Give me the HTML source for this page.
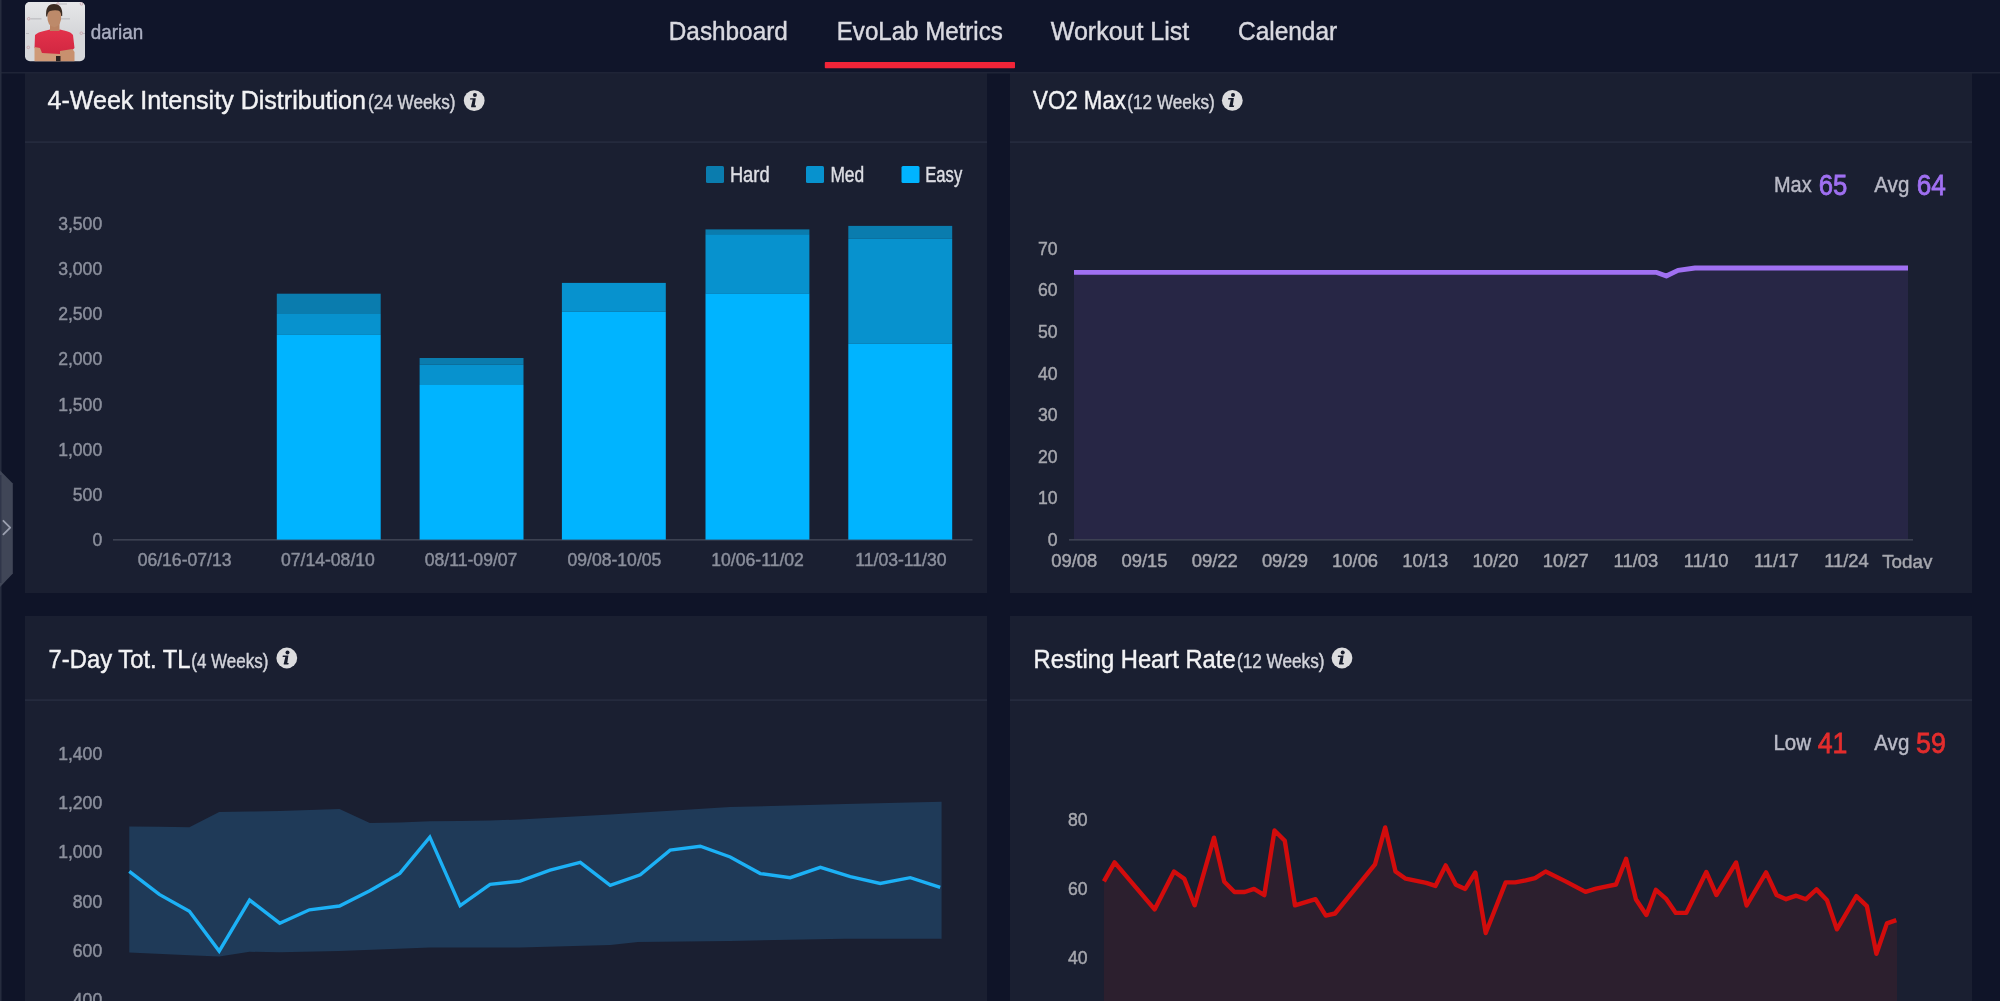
<!DOCTYPE html>
<html><head><meta charset="utf-8"><title>EvoLab Metrics</title>
<style>
html,body{margin:0;padding:0;background:#0f1428;overflow:hidden;}
svg{display:block;font-family:"Liberation Sans", sans-serif;will-change:transform;}
</style></head>
<body>
<svg width="2000" height="1001" viewBox="0 0 2000 1001">
<rect x="0" y="0" width="2000" height="1001" fill="#0f1428"/>
<rect x="25" y="58" width="962" height="535" fill="#1a1f31"/>
<rect x="1010" y="58" width="962" height="535" fill="#1a1f31"/>
<rect x="25" y="616" width="962" height="400" fill="#1a1f31"/>
<rect x="1010" y="616" width="962" height="400" fill="#1a1f31"/>
<rect x="25" y="141.5" width="962" height="1.2" fill="#2a3044"/>
<rect x="1010" y="141.5" width="962" height="1.2" fill="#2a3044"/>
<rect x="25" y="699.5" width="962" height="1.2" fill="#2a3044"/>
<rect x="1010" y="699.5" width="962" height="1.2" fill="#2a3044"/>
<rect x="113" y="539.2" width="859.5" height="1.3" fill="#454a5a"/>
<rect x="276.8" y="293.7" width="103.9" height="20.30000000000001" fill="#0a7cae"/>
<rect x="276.8" y="314.0" width="103.9" height="20.899999999999977" fill="#0792ce"/>
<rect x="276.8" y="334.9" width="103.9" height="204.70000000000005" fill="#00b4ff"/>
<rect x="419.6" y="358.0" width="103.9" height="6.699999999999989" fill="#0a7cae"/>
<rect x="419.6" y="364.7" width="103.9" height="20.30000000000001" fill="#0792ce"/>
<rect x="419.6" y="385.0" width="103.9" height="154.60000000000002" fill="#00b4ff"/>
<rect x="561.9" y="282.9" width="103.9" height="0.0" fill="#0a7cae"/>
<rect x="561.9" y="282.9" width="103.9" height="28.700000000000045" fill="#0792ce"/>
<rect x="561.9" y="311.6" width="103.9" height="228.0" fill="#00b4ff"/>
<rect x="705.5" y="229.4" width="103.9" height="4.799999999999983" fill="#0a7cae"/>
<rect x="705.5" y="234.2" width="103.9" height="59.19999999999999" fill="#0792ce"/>
<rect x="705.5" y="293.4" width="103.9" height="246.20000000000005" fill="#00b4ff"/>
<rect x="848.3" y="225.9" width="103.9" height="12.900000000000006" fill="#0a7cae"/>
<rect x="848.3" y="238.8" width="103.9" height="105.0" fill="#0792ce"/>
<rect x="848.3" y="343.8" width="103.9" height="195.8" fill="#00b4ff"/>
<text x="102.2" y="545.9" font-size="17.6" fill="#8b8f9c" text-anchor="end" stroke="#8b8f9c" stroke-width="0.45">0</text>
<text x="102.2" y="500.8" font-size="17.6" fill="#8b8f9c" text-anchor="end" stroke="#8b8f9c" stroke-width="0.45">500</text>
<text x="102.2" y="455.6" font-size="17.6" fill="#8b8f9c" text-anchor="end" stroke="#8b8f9c" stroke-width="0.45">1,000</text>
<text x="102.2" y="410.5" font-size="17.6" fill="#8b8f9c" text-anchor="end" stroke="#8b8f9c" stroke-width="0.45">1,500</text>
<text x="102.2" y="365.3" font-size="17.6" fill="#8b8f9c" text-anchor="end" stroke="#8b8f9c" stroke-width="0.45">2,000</text>
<text x="102.2" y="320.2" font-size="17.6" fill="#8b8f9c" text-anchor="end" stroke="#8b8f9c" stroke-width="0.45">2,500</text>
<text x="102.2" y="275.1" font-size="17.6" fill="#8b8f9c" text-anchor="end" stroke="#8b8f9c" stroke-width="0.45">3,000</text>
<text x="102.2" y="229.9" font-size="17.6" fill="#8b8f9c" text-anchor="end" stroke="#8b8f9c" stroke-width="0.45">3,500</text>
<text x="184.6" y="566" font-size="17.6" fill="#8b8f9c" text-anchor="middle" stroke="#8b8f9c" stroke-width="0.45">06/16-07/13</text>
<text x="327.9" y="566" font-size="17.6" fill="#8b8f9c" text-anchor="middle" stroke="#8b8f9c" stroke-width="0.45">07/14-08/10</text>
<text x="471.1" y="566" font-size="17.6" fill="#8b8f9c" text-anchor="middle" stroke="#8b8f9c" stroke-width="0.45">08/11-09/07</text>
<text x="614.4" y="566" font-size="17.6" fill="#8b8f9c" text-anchor="middle" stroke="#8b8f9c" stroke-width="0.45">09/08-10/05</text>
<text x="757.6" y="566" font-size="17.6" fill="#8b8f9c" text-anchor="middle" stroke="#8b8f9c" stroke-width="0.45">10/06-11/02</text>
<text x="900.9" y="566" font-size="17.6" fill="#8b8f9c" text-anchor="middle" stroke="#8b8f9c" stroke-width="0.45">11/03-11/30</text>
<rect x="706" y="166" width="18" height="17" rx="1.5" fill="#0a7cae"/>
<text x="729.9" y="182.2" font-size="21.2" fill="#dcdde3" text-anchor="start" textLength="39.7" lengthAdjust="spacingAndGlyphs" stroke="#dcdde3" stroke-width="0.45">Hard</text>
<rect x="806" y="166" width="18" height="17" rx="1.5" fill="#0792ce"/>
<text x="830.4" y="182.2" font-size="21.2" fill="#dcdde3" text-anchor="start" textLength="33.8" lengthAdjust="spacingAndGlyphs" stroke="#dcdde3" stroke-width="0.45">Med</text>
<rect x="901.5" y="166" width="18" height="17" rx="1.5" fill="#00b4ff"/>
<text x="925.3" y="182.2" font-size="21.2" fill="#dcdde3" text-anchor="start" textLength="36.9" lengthAdjust="spacingAndGlyphs" stroke="#dcdde3" stroke-width="0.45">Easy</text>
<path d="M1074,272.3 L1656,272.3 L1666.3,276 L1678,270.3 L1695,268 L1908,268 L1908,539.6 L1074,539.6 Z" fill="#272645"/>
<rect x="1069" y="539.2" width="844" height="1.3" fill="#454a5a"/>
<path d="M1074,272.3 L1656,272.3 L1666.3,276 L1678,270.3 L1695,268 L1908,268" fill="none" stroke="#a070f2" stroke-width="4.8" stroke-linejoin="round"/>
<text x="1057.6" y="545.9" font-size="17.6" fill="#a6a7ae" text-anchor="end" stroke="#a6a7ae" stroke-width="0.45">0</text>
<text x="1057.6" y="504.3" font-size="17.6" fill="#a6a7ae" text-anchor="end" stroke="#a6a7ae" stroke-width="0.45">10</text>
<text x="1057.6" y="462.7" font-size="17.6" fill="#a6a7ae" text-anchor="end" stroke="#a6a7ae" stroke-width="0.45">20</text>
<text x="1057.6" y="421.1" font-size="17.6" fill="#a6a7ae" text-anchor="end" stroke="#a6a7ae" stroke-width="0.45">30</text>
<text x="1057.6" y="379.5" font-size="17.6" fill="#a6a7ae" text-anchor="end" stroke="#a6a7ae" stroke-width="0.45">40</text>
<text x="1057.6" y="337.9" font-size="17.6" fill="#a6a7ae" text-anchor="end" stroke="#a6a7ae" stroke-width="0.45">50</text>
<text x="1057.6" y="296.3" font-size="17.6" fill="#a6a7ae" text-anchor="end" stroke="#a6a7ae" stroke-width="0.45">60</text>
<text x="1057.6" y="254.7" font-size="17.6" fill="#a6a7ae" text-anchor="end" stroke="#a6a7ae" stroke-width="0.45">70</text>
<defs><clipPath id="xc"><rect x="1030" y="545" width="940" height="24"/></clipPath></defs><g clip-path="url(#xc)">
<text x="1074.3" y="567.3" font-size="18.4" fill="#a6a7ae" text-anchor="middle" stroke="#a6a7ae" stroke-width="0.45">09/08</text>
<text x="1144.5" y="567.3" font-size="18.4" fill="#a6a7ae" text-anchor="middle" stroke="#a6a7ae" stroke-width="0.45">09/15</text>
<text x="1214.7" y="567.3" font-size="18.4" fill="#a6a7ae" text-anchor="middle" stroke="#a6a7ae" stroke-width="0.45">09/22</text>
<text x="1284.9" y="567.3" font-size="18.4" fill="#a6a7ae" text-anchor="middle" stroke="#a6a7ae" stroke-width="0.45">09/29</text>
<text x="1355.1" y="567.3" font-size="18.4" fill="#a6a7ae" text-anchor="middle" stroke="#a6a7ae" stroke-width="0.45">10/06</text>
<text x="1425.3" y="567.3" font-size="18.4" fill="#a6a7ae" text-anchor="middle" stroke="#a6a7ae" stroke-width="0.45">10/13</text>
<text x="1495.5" y="567.3" font-size="18.4" fill="#a6a7ae" text-anchor="middle" stroke="#a6a7ae" stroke-width="0.45">10/20</text>
<text x="1565.7" y="567.3" font-size="18.4" fill="#a6a7ae" text-anchor="middle" stroke="#a6a7ae" stroke-width="0.45">10/27</text>
<text x="1635.9" y="567.3" font-size="18.4" fill="#a6a7ae" text-anchor="middle" stroke="#a6a7ae" stroke-width="0.45">11/03</text>
<text x="1706.1" y="567.3" font-size="18.4" fill="#a6a7ae" text-anchor="middle" stroke="#a6a7ae" stroke-width="0.45">11/10</text>
<text x="1776.3" y="567.3" font-size="18.4" fill="#a6a7ae" text-anchor="middle" stroke="#a6a7ae" stroke-width="0.45">11/17</text>
<text x="1846.5" y="567.3" font-size="18.4" fill="#a6a7ae" text-anchor="middle" stroke="#a6a7ae" stroke-width="0.45">11/24</text>
<text x="1907.3" y="567.6" font-size="18.4" fill="#a6a7ae" text-anchor="middle" textLength="50.2" lengthAdjust="spacingAndGlyphs" stroke="#a6a7ae" stroke-width="0.45">Today</text>
</g>
<text x="1774" y="192.1" font-size="21.6" fill="#b9bac6" text-anchor="start" textLength="37.6" lengthAdjust="spacingAndGlyphs" stroke="#b9bac6" stroke-width="0.45">Max</text>
<text x="1818.8" y="195.3" font-size="29.5" fill="#a070f2" text-anchor="start" textLength="28.6" lengthAdjust="spacingAndGlyphs" stroke="#a070f2" stroke-width="0.8">65</text>
<text x="1874.3" y="192.1" font-size="21.6" fill="#b9bac6" text-anchor="start" textLength="35" lengthAdjust="spacingAndGlyphs" stroke="#b9bac6" stroke-width="0.45">Avg</text>
<text x="1916.7" y="195.3" font-size="29.5" fill="#a070f2" text-anchor="start" textLength="29.1" lengthAdjust="spacingAndGlyphs" stroke="#a070f2" stroke-width="0.8">64</text>
<path d="M129.3,826.6 L159.3,826.8 L189.4,827.2 L219.2,811.9 L249.6,811.5 L279.7,811.1 L309.5,810 L339.5,809 L369.8,823 L399.8,822.6 L429.8,821.2 L460.1,821 L490.1,820.4 L520.1,819.6 L610.4,814.5 L730,807.1 L845,804.1 L941.6,801.8 L941.6,938.7 L845,938.7 L730,941 L638,942.1 L610.4,945.1 L520.1,947.4 L430,947.6 L339.5,951.0 L279.7,952.2 L249.6,951.8 L219.2,956.4 L189.4,955.3 L129.3,952.6 Z" fill="#1f3a58"/>
<path d="M129.3,871.3 L159.3,894.4 L189.4,911.2 L219.2,951.1 L249.6,900.1 L279.7,923.2 L309.5,909.8 L339.5,906 L369.8,890.7 L399.8,873.4 L429.8,837.1 L460.1,905.6 L490.1,884.4 L520.1,881.2 L550.1,870.2 L580.3,862.3 L610.2,885.3 L640.3,874.8 L670.2,850.1 L700.3,846.2 L730.2,857 L760.3,873.6 L790.2,877.7 L820.4,867.4 L850.3,876.6 L880.2,883.5 L910.3,877.7 L940.2,887.4" fill="none" stroke="#1cb1f6" stroke-width="3.4" stroke-linejoin="miter"/>
<text x="102.2" y="1005.7" font-size="17.6" fill="#8b8f9c" text-anchor="end" stroke="#8b8f9c" stroke-width="0.45">400</text>
<text x="102.2" y="956.6" font-size="17.6" fill="#8b8f9c" text-anchor="end" stroke="#8b8f9c" stroke-width="0.45">600</text>
<text x="102.2" y="907.5" font-size="17.6" fill="#8b8f9c" text-anchor="end" stroke="#8b8f9c" stroke-width="0.45">800</text>
<text x="102.2" y="858.4" font-size="17.6" fill="#8b8f9c" text-anchor="end" stroke="#8b8f9c" stroke-width="0.45">1,000</text>
<text x="102.2" y="809.3" font-size="17.6" fill="#8b8f9c" text-anchor="end" stroke="#8b8f9c" stroke-width="0.45">1,200</text>
<text x="102.2" y="760.2" font-size="17.6" fill="#8b8f9c" text-anchor="end" stroke="#8b8f9c" stroke-width="0.45">1,400</text>
<path d="M1103.9,881.3 L1114.6,862.3 L1154.6,909.4 L1174,871.5 L1184.3,878.7 L1194.6,905.3 L1214,837.7 L1224.3,881.8 L1234.5,892 L1244.8,892 L1254,888.9 L1264.3,895.1 L1274.5,830.5 L1284.8,840.8 L1295,905.3 L1315.5,899.2 L1325.8,915.6 L1335,913.5 L1375,864.3 L1385.2,827.4 L1395.5,871.5 L1405.7,878.7 L1426.2,882.8 L1435.4,885.9 L1445.7,865.4 L1455.9,884.8 L1465.2,888.9 L1475.4,872.5 L1485.7,933 L1505.7,882.4 L1515.2,882.4 L1525.7,880.3 L1535.1,878.2 L1545.6,871.5 L1565.6,881.4 L1585.5,891.9 L1596,888.7 L1605.5,886.6 L1616,884.5 L1626.1,858.7 L1635.9,899.2 L1646.4,915 L1655.9,889.8 L1666.4,899.2 L1675.8,912.9 L1686.3,912.9 L1706.3,872 L1716.4,895 L1736.1,862.5 L1746.6,905.5 L1766.1,872.4 L1776.6,895 L1786.1,899.2 L1796.2,895.7 L1806,899.2 L1816.5,889.4 L1827,900.3 L1836.9,929.3 L1856.4,896.1 L1866.9,906.2 L1876.4,953.8 L1886.9,923.4 L1896.3,920.2 L1897,920.2 L1897,1010 L1103.9,1010 Z" fill="#2c1f2e"/>
<path d="M1103.9,881.3 L1114.6,862.3 L1154.6,909.4 L1174,871.5 L1184.3,878.7 L1194.6,905.3 L1214,837.7 L1224.3,881.8 L1234.5,892 L1244.8,892 L1254,888.9 L1264.3,895.1 L1274.5,830.5 L1284.8,840.8 L1295,905.3 L1315.5,899.2 L1325.8,915.6 L1335,913.5 L1375,864.3 L1385.2,827.4 L1395.5,871.5 L1405.7,878.7 L1426.2,882.8 L1435.4,885.9 L1445.7,865.4 L1455.9,884.8 L1465.2,888.9 L1475.4,872.5 L1485.7,933 L1505.7,882.4 L1515.2,882.4 L1525.7,880.3 L1535.1,878.2 L1545.6,871.5 L1565.6,881.4 L1585.5,891.9 L1596,888.7 L1605.5,886.6 L1616,884.5 L1626.1,858.7 L1635.9,899.2 L1646.4,915 L1655.9,889.8 L1666.4,899.2 L1675.8,912.9 L1686.3,912.9 L1706.3,872 L1716.4,895 L1736.1,862.5 L1746.6,905.5 L1766.1,872.4 L1776.6,895 L1786.1,899.2 L1796.2,895.7 L1806,899.2 L1816.5,889.4 L1827,900.3 L1836.9,929.3 L1856.4,896.1 L1866.9,906.2 L1876.4,953.8 L1886.9,923.4 L1896.3,920.2" fill="none" stroke="#d20c0c" stroke-width="4.4" stroke-linejoin="round"/>
<text x="1087.5" y="964.2" font-size="17.6" fill="#a6a7ae" text-anchor="end" stroke="#a6a7ae" stroke-width="0.45">40</text>
<text x="1087.5" y="895.0" font-size="17.6" fill="#a6a7ae" text-anchor="end" stroke="#a6a7ae" stroke-width="0.45">60</text>
<text x="1087.5" y="825.9" font-size="17.6" fill="#a6a7ae" text-anchor="end" stroke="#a6a7ae" stroke-width="0.45">80</text>
<text x="1773.4" y="750" font-size="21.6" fill="#b9bac6" text-anchor="start" textLength="37.6" lengthAdjust="spacingAndGlyphs" stroke="#b9bac6" stroke-width="0.45">Low</text>
<text x="1817.7" y="752.9" font-size="29.5" fill="#e32d2d" text-anchor="start" textLength="29.7" lengthAdjust="spacingAndGlyphs" stroke="#e32d2d" stroke-width="0.8">41</text>
<text x="1874.3" y="750" font-size="21.6" fill="#b9bac6" text-anchor="start" textLength="35" lengthAdjust="spacingAndGlyphs" stroke="#b9bac6" stroke-width="0.45">Avg</text>
<text x="1916" y="752.9" font-size="29.5" fill="#e32d2d" text-anchor="start" textLength="29.8" lengthAdjust="spacingAndGlyphs" stroke="#e32d2d" stroke-width="0.8">59</text>
<text x="47.5" y="109.3" font-size="26" fill="#f2f2f4" text-anchor="start" textLength="318.5" lengthAdjust="spacingAndGlyphs" stroke="#f2f2f4" stroke-width="0.45">4-Week Intensity Distribution</text>
<text x="368" y="109.3" font-size="19.3" fill="#d2d3da" text-anchor="start" textLength="87.5" lengthAdjust="spacingAndGlyphs" stroke="#d2d3da" stroke-width="0.45">(24 Weeks)</text>
<g transform="translate(474.2,100.6)"><circle r="10.4" fill="#dcdcde"/><circle cx="0.7" cy="-5.5" r="2" fill="#151a2a"/><path d="M-4,-2.4 L1.6,-2.4 L0.5,5 L1.9,5 L1.5,6.6 L-3,6.6 Q-3.3,5.8 -2.9,5 L-1.5,-1 L-4.2,-1 Z" fill="#151a2a"/></g>
<text x="1033" y="109.3" font-size="26" fill="#f2f2f4" text-anchor="start" textLength="93" lengthAdjust="spacingAndGlyphs" stroke="#f2f2f4" stroke-width="0.45">VO2 Max</text>
<text x="1127.3" y="109.3" font-size="19.3" fill="#d2d3da" text-anchor="start" textLength="87.5" lengthAdjust="spacingAndGlyphs" stroke="#d2d3da" stroke-width="0.45">(12 Weeks)</text>
<g transform="translate(1232.3,100.4)"><circle r="10.4" fill="#dcdcde"/><circle cx="0.7" cy="-5.5" r="2" fill="#151a2a"/><path d="M-4,-2.4 L1.6,-2.4 L0.5,5 L1.9,5 L1.5,6.6 L-3,6.6 Q-3.3,5.8 -2.9,5 L-1.5,-1 L-4.2,-1 Z" fill="#151a2a"/></g>
<text x="48.6" y="667.6" font-size="26" fill="#f2f2f4" text-anchor="start" textLength="142" lengthAdjust="spacingAndGlyphs" stroke="#f2f2f4" stroke-width="0.45">7-Day Tot. TL</text>
<text x="191.3" y="667.6" font-size="19.3" fill="#d2d3da" text-anchor="start" textLength="77" lengthAdjust="spacingAndGlyphs" stroke="#d2d3da" stroke-width="0.45">(4 Weeks)</text>
<g transform="translate(286.8,658)"><circle r="10.4" fill="#dcdcde"/><circle cx="0.7" cy="-5.5" r="2" fill="#151a2a"/><path d="M-4,-2.4 L1.6,-2.4 L0.5,5 L1.9,5 L1.5,6.6 L-3,6.6 Q-3.3,5.8 -2.9,5 L-1.5,-1 L-4.2,-1 Z" fill="#151a2a"/></g>
<text x="1033.6" y="667.6" font-size="26" fill="#f2f2f4" text-anchor="start" textLength="202" lengthAdjust="spacingAndGlyphs" stroke="#f2f2f4" stroke-width="0.45">Resting Heart Rate</text>
<text x="1237" y="667.6" font-size="19.3" fill="#d2d3da" text-anchor="start" textLength="87.5" lengthAdjust="spacingAndGlyphs" stroke="#d2d3da" stroke-width="0.45">(12 Weeks)</text>
<g transform="translate(1342,658)"><circle r="10.4" fill="#dcdcde"/><circle cx="0.7" cy="-5.5" r="2" fill="#151a2a"/><path d="M-4,-2.4 L1.6,-2.4 L0.5,5 L1.9,5 L1.5,6.6 L-3,6.6 Q-3.3,5.8 -2.9,5 L-1.5,-1 L-4.2,-1 Z" fill="#151a2a"/></g>
<rect x="0" y="0" width="2000" height="72" fill="#10152a"/>
<rect x="0" y="72" width="2000" height="1.5" fill="#1f2437"/>
<rect x="0" y="0" width="1.5" height="1001" fill="#262c3e"/>
<defs><clipPath id="av"><rect x="25" y="2" width="60" height="59.3" rx="5"/></clipPath><linearGradient id="avbg" x1="0" y1="0" x2="0" y2="1"><stop offset="0" stop-color="#e6e7e9"/><stop offset="1" stop-color="#d6d7da"/></linearGradient><linearGradient id="shirt" x1="0" y1="0" x2="0" y2="1"><stop offset="0" stop-color="#e3324b"/><stop offset="1" stop-color="#cf2540"/></linearGradient></defs>
<g clip-path="url(#av)"><rect x="25" y="2" width="60" height="60" fill="#d6d7da"/><rect x="25" y="2" width="60" height="30" fill="url(#avbg)"/><g fill="none" stroke="#c9a6ae" stroke-width="0.9"><circle cx="28.7" cy="18.8" r="1.3"/><circle cx="58" cy="4" r="1.3"/><circle cx="81.5" cy="3.8" r="1.3"/><circle cx="81.3" cy="33.2" r="1.3"/><circle cx="28.3" cy="47.4" r="1.3"/></g><g fill="#b9b9be"><rect x="30.5" y="18.3" width="11" height="1.1"/><rect x="60" y="3.5" width="7" height="1"/><rect x="61" y="18.3" width="9" height="1.1"/><rect x="26" y="33" width="3" height="1"/><rect x="83" y="33" width="2" height="1"/></g><path d="M35,35 Q38,32 44,31 L50,29.5 Q55,31.5 60,29.5 L66,31 Q71,32 73,35 L74.5,48 L72.5,50 L72.5,58 L37,58 L37,49 L34.5,48 Z" fill="url(#shirt)"/><path d="M34.5,47 L40,48 L42,53 L60,54 L60,62 L34.5,62 Z" fill="#cf9a78"/><path d="M60,51 L72.5,49 L74.5,52 L74.5,62 L60,62 Z" fill="#c8906e"/><rect x="56" y="56" width="4.5" height="6" fill="#2a2220"/><rect x="50" y="23" width="9.5" height="8" fill="#b98262"/><path d="M47.3,12 Q47.5,8 54.3,8 Q61,8 61.3,12 L61.3,15 Q61.5,26.5 54.3,27.2 Q47,26.5 47.3,15 Z" fill="#bd8a6a"/><path d="M46.2,16.5 Q45,4 54,4 Q63,4 62.2,16 L61.2,16 Q61,11 58,10.5 Q54,9.8 50,11 Q47.5,12 47.2,16.5 Z" fill="#3b2b22"/></g>
<text x="90.8" y="39.2" font-size="20.6" fill="#a9adc0" text-anchor="start" textLength="52.4" lengthAdjust="spacingAndGlyphs" stroke="#a9adc0" stroke-width="0.45">darian</text>
<text x="668.8" y="40" font-size="26" fill="#d9d9e0" text-anchor="start" textLength="119" lengthAdjust="spacingAndGlyphs" stroke="#d9d9e0" stroke-width="0.45">Dashboard</text>
<text x="836.8" y="40" font-size="26" fill="#d9d9e0" text-anchor="start" textLength="166" lengthAdjust="spacingAndGlyphs" stroke="#d9d9e0" stroke-width="0.45">EvoLab Metrics</text>
<text x="1050.8" y="40" font-size="26" fill="#d9d9e0" text-anchor="start" textLength="138.4" lengthAdjust="spacingAndGlyphs" stroke="#d9d9e0" stroke-width="0.45">Workout List</text>
<text x="1238" y="40" font-size="26" fill="#d9d9e0" text-anchor="start" textLength="99.2" lengthAdjust="spacingAndGlyphs" stroke="#d9d9e0" stroke-width="0.45">Calendar</text>
<rect x="824.8" y="62.1" width="190.2" height="6.2" rx="0.8" fill="#f22438"/>
<path d="M0,470.5 L12.8,483.5 L12.8,573.5 L0,587 Z" fill="#404657"/>
<rect x="0" y="475" width="1.5" height="108" fill="#30364a"/>
<path d="M3.4,520.8 L10.2,527.6 L3.4,534.3" fill="none" stroke="#9ba0b0" stroke-width="1.8" stroke-linecap="round" stroke-linejoin="round"/>
</svg>
</body></html>
